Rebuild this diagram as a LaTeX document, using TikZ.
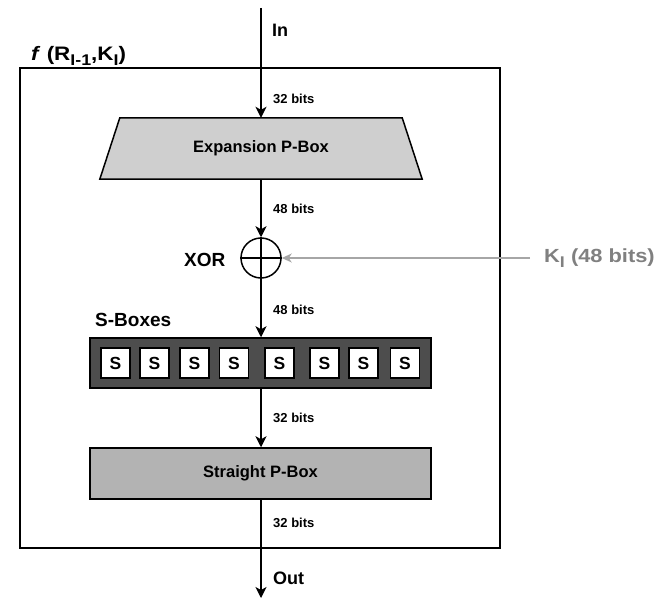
\documentclass[tikz,border=0pt]{standalone}
\usepackage{fontspec}
\setmainfont{Liberation Sans}
\newfontfamily\widesans{Liberation Sans}[FakeStretch=1.15]
\usetikzlibrary{arrows.meta,backgrounds}
\definecolor{expfill}{HTML}{CFCFCF}
\definecolor{strfill}{HTML}{B3B3B3}
\definecolor{sdark}{HTML}{4D4D4D}
\definecolor{kline}{HTML}{A6A6A6}
\definecolor{ktext}{HTML}{808080}
\newcommand\lowsub[1]{\raisebox{-4.5pt}{\fontsize{15.5}{15.5}\selectfont #1}}
\tikzset{
  ln/.style={line width=1.5pt, draw=black},
  arr/.style={ln, -{Stealth[length=11pt,width=11pt,inset=3pt]}},
  karr/.style={line width=1.5pt, draw=kline, -{Stealth[length=10pt,width=9pt,inset=3pt]}},
  bits/.style={anchor=west, inner sep=0pt, font=\fontsize{13}{15}\selectfont\bfseries},
  biglbl/.style={anchor=west, inner sep=0pt, font=\fontsize{19}{22}\selectfont\bfseries},
  sb/.style={draw=black, line width=1.2pt, fill=white, minimum width=29pt, minimum height=30pt, inner sep=0pt, font=\fontsize{17.5}{18}\selectfont\bfseries},
  boxtxt/.style={font=\fontsize{16.5}{18}\selectfont\bfseries},
}
\begin{document}
\begin{tikzpicture}[x=1pt,y=-1pt]
\useasboundingbox (0,0) rectangle (661,607);
% outer frame
\node[draw, line width=1.5pt, minimum width=480pt, minimum height=480pt, inner sep=0pt] (outer) at (260,308) {};
\node[anchor=base west, inner sep=0pt, font=\widesans\fontsize{19.5}{20}\selectfont\bfseries] (title) at (31,61) {\textit{f} (R\lowsub{I-1},K\lowsub{I})};
% endpoints
\coordinate (in) at (261,8);
\coordinate (out) at (261,598);
% expansion P-box
\node[minimum width=322pt, minimum height=61pt, inner sep=0pt, boxtxt] (exp) at (261,148.5) {Expansion P-Box};
\begin{pgfonlayer}{background}
\draw[ln, fill=expfill, line join=miter] (exp.south west) -- (exp.south east) -- ([xshift=-20pt]exp.north east) -- ([xshift=20pt]exp.north west) -- cycle;
\end{pgfonlayer}
% XOR
\node[circle, draw, line width=1.5pt, minimum size=40pt, inner sep=0pt] (xor) at (261,258) {};
\draw[ln] (xor.north) -- (xor.south);
\draw[ln] (xor.west) -- (xor.east);
\node[biglbl] (xorl) at (184,259.5) {XOR};
% key
\node[anchor=west, inner xsep=14pt, inner ysep=0pt, text=ktext, font=\widesans\fontsize{19}{22}\selectfont\bfseries] (k) at (530,258) {K\lowsub{I} (48 bits)};
% S-boxes
\node[biglbl] (sbl) at (95,320) {S-Boxes};
\node[draw, line width=1.5pt, fill=sdark, minimum width=341pt, minimum height=50pt, inner sep=0pt] (sbox) at (260.5,363) {};
\foreach \x [count=\i] in {115.5,154.5,194.5,234,279.5,324.5,363.5,405}
  \node[sb] (s\i) at (\x,363) {S};
% straight P-box
\node[draw, line width=1.5pt, fill=strfill, minimum width=341pt, minimum height=51pt, inner sep=0pt, boxtxt] (str) at (260.5,473.5) {Straight P-Box};
% connectors
\draw[arr] (in) -- (exp.north);
\draw[arr] (exp.south) -- (xor.north);
\draw[karr] (k.west) -- (xor.east);
\draw[arr] (xor.south) -- (xor.south |- sbox.north);
\draw[arr] (xor.south |- sbox.south) -- (xor.south |- str.north);
\draw[arr] (xor.south |- str.south) -- (out);
% labels
\node[biglbl, font=\fontsize{18}{22}\selectfont\bfseries] (inl) at (272,30) {In};
\node[biglbl, font=\fontsize{18}{22}\selectfont\bfseries] (outl) at (273,578) {Out};
\node[bits] (b1) at (273,99) {32 bits};
\node[bits] (b2) at (273,209) {48 bits};
\node[bits] (b3) at (273,310) {48 bits};
\node[bits] (b4) at (273,418) {32 bits};
\node[bits] (b5) at (273,523) {32 bits};
\end{tikzpicture}
\end{document}
